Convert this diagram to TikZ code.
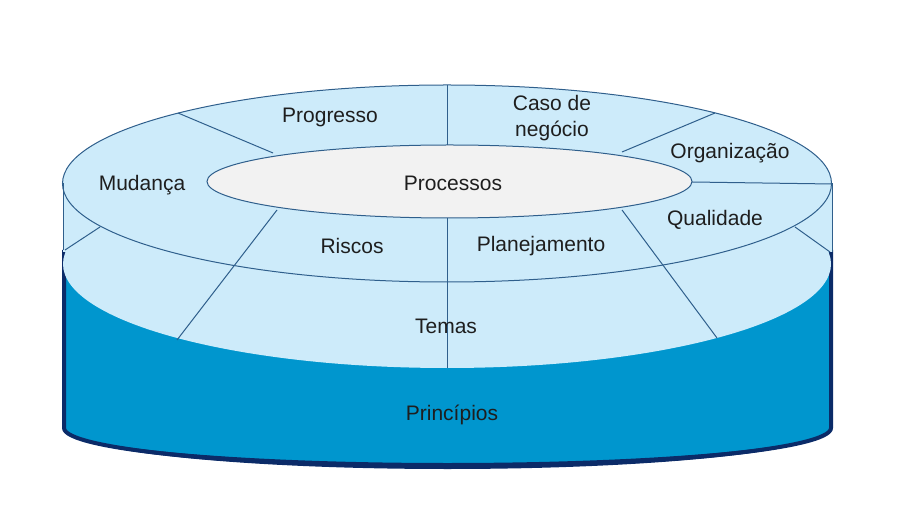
\documentclass[tikz,border=0pt]{standalone}
\usepackage{fontspec}
\setmainfont{Liberation Sans}
\definecolor{ringblue}{HTML}{CDEBFA}
\definecolor{basedark}{HTML}{0096CE}
\definecolor{navyrim}{HTML}{0B2B68}
\definecolor{spoke}{HTML}{2F5F8C}
\definecolor{coregray}{HTML}{F2F2F2}
\definecolor{txt}{HTML}{1E1E1E}

\begin{document}
\begin{tikzpicture}[x=0.5pt, y=-0.5pt, font=\fontsize{10.5}{13}\selectfont, lbl/.style={text=txt, align=center, inner sep=1pt}, spk/.style={draw=spoke, line width=0.5pt}]
\useasboundingbox (0,0) rectangle (897,512);
% base cylinder
\fill[basedark] (64,250) -- (64,428) arc[start angle=180, end angle=0, x radius=383.5, y radius=38] -- (831,250) -- cycle;
\draw[navyrim, line width=2pt, line join=round] (64,250) -- (64,428) arc[start angle=180, end angle=0, x radius=383.5, y radius=38] -- (831,250);
\fill[navyrim] (64,428) arc[start angle=180, end angle=0, x radius=383.5, y radius=41] arc[start angle=0, end angle=180, x radius=383.5, y radius=35] -- cycle;
% light disc
\fill[ringblue] (447,264) ellipse [x radius=384, y radius=104];
\fill[ringblue] (63,183.5) rectangle (832,252);
\fill[ringblue] (447,183.5) ellipse [x radius=384.5, y radius=98.5];
\draw[spk] (447,183.5) ellipse [x radius=384.5, y radius=98.5];
\draw[spk] (63,183.5) -- (63,250) (832,183.5) -- (832,252);
\filldraw[spk, fill=coregray] (449.5,181.5) ellipse [x radius=242.5, y radius=36.5];
% spokes
\draw[spk] (178,113) -- (273,153); \draw[spk] (447,85) -- (447,145);
\draw[spk] (715,113) -- (622,152); \draw[spk] (692,182) -- (832,184);
\draw[spk] (622,210) -- (717,338); \draw[spk] (447,218) -- (447,368);
\draw[spk] (277,210) -- (177,340);
\draw[spk] (100,227) -- (65,250); \draw[spk] (795,227) -- (830,252);
% labels
\node[lbl] (prog) at (330,117) {Progresso};
\node[lbl] (caso) at (552,118) {Caso de\\negócio};
\node[lbl] (org) at (730,153) {Organização};
\node[lbl] (mud) at (142,185) {Mudança};
\node[lbl] (proc) at (453,183) {Processos};
\node[lbl] (risc) at (352,246) {Riscos};
\node[lbl] (plan) at (541,246) {Planejamento};
\node[lbl] (qual) at (715,220) {Qualidade};
\node[lbl] (temas) at (446,326) {Temas};
\node[lbl] (princ) at (452,415) {Princípios};
\end{tikzpicture}
\end{document}
